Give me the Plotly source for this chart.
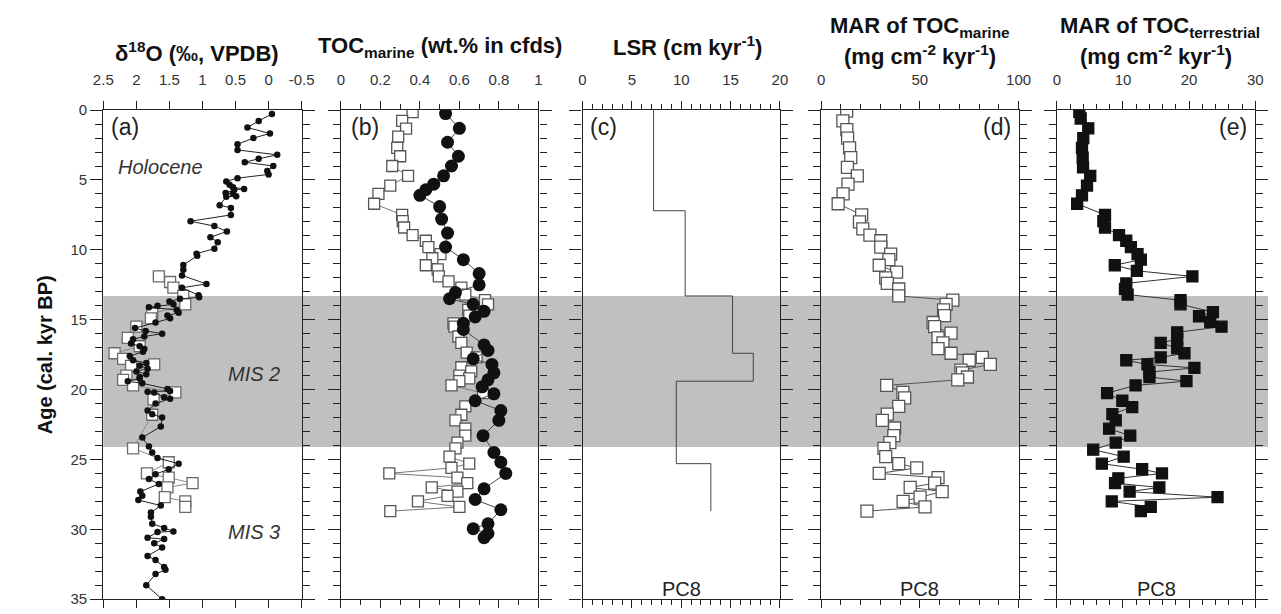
import plotly.graph_objects as go

# ---------------- data ----------------
# (a) delta18O, black dots
d18o_age = [0.28, 0.77, 1.25, 1.67, 2.0, 2.44, 2.85, 3.2, 3.48, 3.73, 4.0, 4.35, 4.6, 4.87, 5.1, 5.34,
            5.52, 5.64, 5.7, 5.94, 5.97, 6.17, 6.2, 6.8, 7.0, 7.5, 7.95, 8.3, 8.68, 9.1, 9.45, 9.92,
            10.27, 10.43, 11.08, 11.43, 11.83, 12.44, 12.71, 13.24, 13.4, 13.5, 13.7, 13.9, 14.0,
            14.1, 14.3, 14.5, 14.7, 14.9, 15.2, 15.6, 15.8, 16.0, 16.2, 16.4, 16.7, 16.9, 17.1,
            17.3, 17.6, 17.9, 18.1, 18.3, 18.5, 18.7, 18.9, 19.1, 19.2, 19.4, 19.55, 19.95, 20.1,
            20.15, 20.2, 20.55, 20.65, 21.0, 21.5, 21.76, 22.0, 22.64, 23.43, 24.08, 24.5, 24.9,
            25.3, 25.7, 26.05, 26.4, 26.75, 27.3, 27.6, 27.9, 28.3, 28.8, 29.1, 29.6, 29.9, 30.15,
            30.2, 30.6, 30.7, 31.0, 31.3, 31.9, 32.2, 32.7, 32.9, 33.2, 34.0, 35.0]
d18o_val = [-0.05, 0.15, 0.32, -0.02, 0.23, 0.47, 0.47, -0.13, 0.15, 0.36, -0.07, 0.02, 0.0, 0.47,
            0.64, 0.59, 0.54, 0.37, 0.52, 0.65, 0.54, 0.49, 0.64, 0.74, 0.57, 0.57, 1.18, 0.82,
            0.63, 0.88, 0.77, 0.82, 1.09, 1.08, 1.29, 1.29, 1.31, 0.94, 1.31, 1.06, 1.05, 1.34,
            1.50, 1.44, 1.68, 1.81, 1.39, 1.36, 1.53, 1.49, 1.71, 2.02, 1.86, 1.61, 1.88, 2.05,
            2.08, 1.95, 1.88, 1.90, 2.10, 2.05, 1.85, 1.95, 1.83, 2.0, 1.85, 1.95, 1.95, 2.13,
            1.91, 1.53, 1.49, 1.83, 1.73, 1.58, 1.49, 1.71, 1.83, 1.76, 1.61, 1.63, 1.91, 1.81,
            1.76, 1.68, 1.36, 1.51, 1.71, 1.81, 1.66, 1.94, 1.91, 1.97, 1.63, 1.78, 1.78, 1.76,
            1.58, 1.44, 1.68, 1.83, 1.58, 1.73, 1.61, 1.83, 1.71, 1.58, 1.56, 1.71, 1.85, 1.61]
# (a) delta18O, open squares
d18o_sq_age = [11.9, 12.3, 12.7, 13.3, 13.9, 14.57, 14.9, 15.5, 16.3, 16.9, 17.4, 17.8, 18.2, 18.3,
               19.0, 19.3, 19.7, 20.2, 20.7, 21.8, 24.2, 25.2, 26.0, 26.3, 26.7, 27.0, 27.7, 28.0, 28.4]
d18o_sq_val = [1.66, 1.49, 1.44, 1.29, 1.26, 1.76, 1.78, 2.0, 2.13, 1.95, 2.33, 2.2, 1.73, 2.08,
               2.15, 2.2, 2.05, 1.41, 1.74, 1.76, 2.05, 1.51, 1.84, 1.51, 1.15, 1.53, 1.57, 1.26, 1.26]

# (b) TOC marine, filled circles
toc_c_age = [0.25, 1.3, 2.3, 3.3, 4.0, 4.7, 5.3, 5.7, 6.1, 6.9, 7.8, 8.8, 9.8, 10.7, 11.7, 12.5,
             13.06, 13.5, 13.9, 14.4, 14.8, 15.26, 15.7, 16.8, 17.2, 17.8, 18.2, 18.8, 19.3, 19.8,
             20.3, 20.8, 21.5, 22.2, 23.3, 24.5, 25.2, 26.0, 27.1, 27.86, 28.6, 29.6, 29.95, 30.3, 30.6]
toc_c_val = [0.53, 0.60, 0.54, 0.595, 0.56, 0.52, 0.47, 0.43, 0.40, 0.50, 0.51, 0.54, 0.53, 0.62,
             0.70, 0.70, 0.58, 0.55, 0.67, 0.725, 0.68, 0.62, 0.62, 0.725, 0.745, 0.67, 0.765,
             0.775, 0.745, 0.715, 0.775, 0.68, 0.81, 0.80, 0.72, 0.775, 0.81, 0.835, 0.725, 0.68,
             0.81, 0.745, 0.67, 0.745, 0.725]
# (b) TOC marine, open squares
toc_s_age = [0.15, 0.77, 1.33, 1.9, 2.7, 3.3, 4.0, 4.7, 5.4, 6.0, 6.7, 7.5, 7.95, 8.4, 8.95, 9.35,
             9.8, 10.3, 10.6, 11.1, 11.4, 11.9, 12.25, 12.7, 13.2, 13.6, 13.9, 14.3, 14.7, 15.26,
             15.5, 16.2, 16.65, 17.35, 17.7, 18.4, 18.7, 19.0, 19.2, 19.4, 19.7, 20.25, 21.2, 21.8,
             22.2, 22.8, 23.3, 23.8, 24.2, 24.8, 25.3, 25.6, 26.0, 26.3, 26.7, 27.0, 27.3, 27.6,
             28.0, 28.4, 28.7]
toc_s_val = [0.363, 0.31, 0.33, 0.29, 0.285, 0.30, 0.26, 0.34, 0.25, 0.19, 0.168, 0.31, 0.313,
             0.32, 0.363, 0.43, 0.443, 0.504, 0.463, 0.43, 0.49, 0.496, 0.545, 0.61, 0.63, 0.73,
             0.745, 0.645, 0.65, 0.57, 0.575, 0.595, 0.61, 0.637, 0.687, 0.61, 0.66, 0.60, 0.65,
             0.60, 0.56, 0.72, 0.63, 0.61, 0.58, 0.63, 0.63, 0.59, 0.58, 0.55, 0.65, 0.56, 0.245,
             0.59, 0.64, 0.46, 0.59, 0.54, 0.39, 0.60, 0.25]

# (c) LSR step boundaries and rates
lsr_age = [0.0, 7.2, 13.3, 17.4, 19.4, 25.3, 28.7]
lsr_val = [7.2, 10.4, 15.2, 17.3, 9.5, 13.0, 13.0]

# (d) MAR of TOC marine
marm_age = [0.07, 0.77, 1.4, 2.0, 2.7, 3.4, 4.1, 4.7, 5.3, 6.0, 6.7, 7.5, 8.0, 8.5, 8.95, 9.35,
            9.8, 10.3, 10.7, 11.1, 11.6, 12.0, 12.4, 12.8, 13.3, 13.6, 13.9, 14.3, 14.7, 15.2,
            15.5, 15.96, 16.3, 16.65, 17.07, 17.4, 17.7, 17.9, 18.2, 18.6, 18.8, 19.1, 19.3,
            19.7, 20.2, 20.6, 21.2, 21.76, 22.2, 22.75, 23.3, 23.8, 24.2, 24.8, 25.3, 25.6, 26.0,
            26.3, 26.7, 27.0, 27.3, 27.7, 28.0, 28.4, 28.7]
marm_val = [12.9, 11.0, 13.0, 13.4, 14.4, 15.0, 13.3, 18.3, 13.6, 11.1, 8.6, 20.5, 19.4, 21.1,
            24.7, 30.2, 30.2, 35.2, 34.3, 29.4, 38.2, 32.7, 33.5, 39.3, 39.3, 66.7, 63.3, 62.0,
            62.5, 56.7, 57.5, 65.8, 59.2, 61.7, 59.2, 65.8, 81.6, 75.0, 85.7, 70.8, 71.6, 74.1,
            69.2, 33.2, 41.4, 42.3, 39.3, 33.5, 31.0, 37.2, 36.8, 34.8, 31.8, 32.7, 39.3, 48.4,
            29.4, 59.2, 57.5, 45.1, 61.3, 50.1, 41.5, 52.6, 23.2]

# (e) MAR of TOC terrestrial
mart_age = [0.13, 0.6, 1.3, 2.0, 2.7, 3.4, 4.1, 4.7, 5.4, 6.1, 6.7, 7.5, 7.95, 8.4, 8.95, 9.35,
            9.8, 10.3, 10.7, 11.1, 11.5, 11.9, 12.4, 12.8, 13.2, 13.6, 13.9, 14.45, 14.75, 15.15,
            15.5, 15.9, 16.4, 16.65, 17.05, 17.4, 17.7, 17.9, 18.2, 18.45, 18.75, 19.1, 19.4,
            19.7, 20.25, 20.8, 21.25, 21.76, 22.2, 22.8, 23.3, 23.8, 24.3, 24.8, 25.3, 25.7, 26.0,
            26.35, 26.7, 27.0, 27.3, 27.7, 28.0, 28.4, 28.7]
mart_val = [3.4, 3.6, 4.75, 4.0, 3.8, 3.9, 3.96, 5.05, 4.56, 3.8, 3.07, 7.28, 7.03, 7.28, 9.4,
            10.5, 11.2, 12.2, 12.7, 8.76, 12.1, 20.5, 10.5, 10.3, 10.7, 18.7, 18.7, 23.6, 21.5,
            23.2, 24.9, 18.2, 18.2, 15.7, 18.2, 19.3, 15.7, 10.5, 13.7, 20.8, 14.0, 14.0, 19.6,
            11.9, 7.6, 9.9, 11.4, 8.4, 8.9, 7.9, 11.1, 8.9, 5.5, 10.1, 6.8, 12.9, 15.9, 9.3, 8.8,
            15.5, 11.0, 24.3, 8.3, 14.2, 12.7]

mis2_top, mis2_bottom = 13.3, 24.1

# ---------------- layout helpers ----------------
W, H = 1281, 614
px = [(95, 297), (337, 538), (583, 784), (826, 1027), (1066, 1268)]
xdom = [[a / W, b / W] for a, b in px]
ydom = [1 - 607 / H, 1 - 104 / H]
FONT = "Liberation Sans, Arial, Helvetica, sans-serif"
AX = "#222222"

fig = go.Figure()

def sq(color_fill, line_color, size=11):
    return dict(symbol="square", size=size, color=color_fill, line=dict(color=line_color, width=1.3))

# (a)
fig.add_trace(go.Scatter(x=d18o_sq_val, y=d18o_sq_age, mode="lines+markers", xaxis="x", yaxis="y",
                         line=dict(color="#8a8a8a", width=1), marker=sq("white", "#6a6a6a", 11)))
fig.add_trace(go.Scatter(x=d18o_val, y=d18o_age, mode="lines+markers", xaxis="x", yaxis="y",
                         line=dict(color="#222", width=1), marker=dict(size=6.5, color="#111")))
# (b)
fig.add_trace(go.Scatter(x=toc_s_val, y=toc_s_age, mode="lines+markers", xaxis="x2", yaxis="y2",
                         line=dict(color="#777", width=1), marker=sq("white", "#555", 11)))
fig.add_trace(go.Scatter(x=toc_c_val, y=toc_c_age, mode="lines+markers", xaxis="x2", yaxis="y2",
                         line=dict(color="#444", width=1), marker=dict(size=13, color="#111")))
# (c)
fig.add_trace(go.Scatter(x=lsr_val, y=lsr_age, mode="lines", xaxis="x3", yaxis="y3",
                         line=dict(color="#444", width=1, shape="vh")))
# (d)
fig.add_trace(go.Scatter(x=marm_val, y=marm_age, mode="lines+markers", xaxis="x4", yaxis="y4",
                         line=dict(color="#555", width=1), marker=sq("white", "#555", 12)))
# (e)
fig.add_trace(go.Scatter(x=mart_val, y=mart_age, mode="lines+markers", xaxis="x5", yaxis="y5",
                         line=dict(color="#333", width=1), marker=sq("#111", "#111", 11)))

xcfg = [
    dict(range=[2.5, -0.5], tickvals=[2.5, 2, 1.5, 1, 0.5, 0, -0.5],
         ticktext=["2.5", "2", "1.5", "1", "0.5", "0", "-0.5"], minor=None),
    dict(range=[0, 1], tickvals=[0, 0.2, 0.4, 0.6, 0.8, 1], ticktext=["0", "0.2", "0.4", "0.6", "0.8", "1"],
         minor=0.1),
    dict(range=[0, 20], tickvals=[0, 5, 10, 15, 20], ticktext=None, minor=1),
    dict(range=[0, 100], tickvals=[0, 50, 100], ticktext=None, minor=10),
    dict(range=[0, 30], tickvals=[0, 10, 20, 30], ticktext=None, minor=2),
]

layout = dict(
    width=W, height=H, margin=dict(l=0, r=0, t=0, b=0),
    paper_bgcolor="white", plot_bgcolor="rgba(0,0,0,0)",
    showlegend=False, font=dict(family=FONT, color=AX, size=14),
)
for i in range(5):
    n = "" if i == 0 else str(i + 1)
    c = xcfg[i]
    xa = dict(domain=xdom[i], range=c["range"], side="top", anchor="y" + n,
              showline=True, linecolor=AX, linewidth=1.4, mirror="ticks",
              ticks="outside", ticklen=8, tickwidth=1.3, tickcolor=AX,
              tickvals=c["tickvals"], showgrid=False, zeroline=False, ticklabelstandoff=10,
              tickfont=dict(size=15, color="#333"), fixedrange=True)
    if c["ticktext"]:
        xa["ticktext"] = c["ticktext"]
    if c["minor"]:
        xa["minor"] = dict(dtick=c["minor"], tick0=0, ticks="outside", ticklen=5, tickwidth=1.2,
                           tickcolor=AX, showgrid=False)
    layout["xaxis" + n] = xa
    ya = dict(domain=ydom, range=[35, 0], anchor="x" + n, showline=True, linecolor=AX,
              linewidth=1.4, mirror="ticks", ticks="outside", ticklen=12, tickwidth=1.3,
              tickcolor=AX, dtick=5, tick0=0, showgrid=False, zeroline=False,
              showticklabels=(i == 0), tickfont=dict(size=15, color="#333"),
              minor=dict(dtick=1, tick0=0, ticks="outside", ticklen=7, tickwidth=1.2,
                         tickcolor=AX, showgrid=False), fixedrange=True)
    layout["yaxis" + n] = ya

fig.update_layout(**layout)

# MIS 2 grey band
fig.add_shape(type="rect", xref="paper", yref="y", x0=xdom[0][0], x1=1.0,
              y0=mis2_top, y1=mis2_bottom, fillcolor="#c0c0c0", line=dict(width=0), layer="below")

# titles
def title(text, xc, ypx, size=22):
    fig.add_annotation(text=text, xref="paper", yref="paper", x=xc, y=1 - ypx / H,
                       showarrow=False, xanchor="center", yanchor="middle",
                       font=dict(family=FONT, size=size, color="#111"))

cx = [(a + b) / 2 / W for a, b in px]
title("<b>δ<sup>18</sup>O (‰, VPDB)</b>", cx[0] - 6 / W, 44)
title("<b>TOC<sub>marine</sub> (wt.% in cfds)</b>", cx[1], 39)
title("<b>LSR (cm kyr<sup>-1</sup>)</b>", cx[2] + 6 / W, 38)
title("<b>MAR of TOC<sub>marine</sub></b>", cx[3], 18)
title("<b>(mg cm<sup>-2</sup> kyr<sup>-1</sup>)</b>", cx[3], 47)
title("<b>MAR of TOC<sub>terrestrial</sub></b>", cx[4] + 4 / W, 18)
title("<b>(mg cm<sup>-2</sup> kyr<sup>-1</sup>)</b>", cx[4], 47)

fig.add_annotation(text="<b>Age (cal. kyr BP)</b>", xref="paper", yref="paper", x=22 / W,
                   y=(ydom[0] + ydom[1]) / 2, textangle=-90, showarrow=False,
                   font=dict(family=FONT, size=20, color="#111"))

# panel letters
letters = [("(a)", "x", 0.03, "left"), ("(b)", "x2", 0.04, "left"), ("(c)", "x3", 0.03, "left"),
           ("(d)", "x4", 0.97, "right"), ("(e)", "x5", 0.97, "right")]
for i, (t, xr, xf, anc) in enumerate(letters):
    n = "" if i == 0 else str(i + 1)
    fig.add_annotation(text=t, xref=xr + " domain", yref="y" + n, x=xf, y=1.2, xanchor=anc,
                       yanchor="middle", showarrow=False, font=dict(family=FONT, size=23, color="#222"))

# period labels
for t, yv, xf in [("Holocene", 4.1, 0.29), ("MIS 2", 18.9, 0.76), ("MIS 3", 30.2, 0.76)]:
    fig.add_annotation(text="<i>" + t + "</i>", xref="x domain", yref="y",
                       x=xf, y=yv, showarrow=False, xanchor="center", yanchor="middle",
                       font=dict(family=FONT, size=20, color="#333"))
for i in (3, 4, 5):
    fig.add_annotation(text="PC8", xref="x%d domain" % i, yref="y%d" % i, x=0.5, y=34.3,
                       showarrow=False, xanchor="center", yanchor="middle",
                       font=dict(family=FONT, size=20, color="#222"))

fig.write_html("out.html")
